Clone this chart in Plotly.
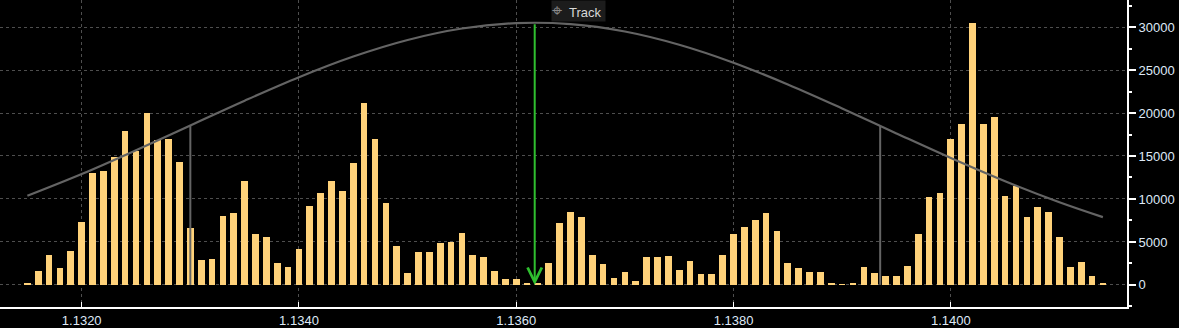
import plotly.graph_objects as go

# ---- data ----
price_levels = [round(1.1315 + 0.0001 * i, 4) for i in range(100)]
volumes = [
    200, 1635, 3427, 1986, 3971, 7358, 13003, 13237, 14834, 17910,
    15534, 20011, 16819, 16936, 14289, 6580, 2842, 2958, 7981, 8331,
    12069, 5879, 5529, 2608, 2141, 4127, 9227, 10746, 12069, 10902,
    14172, 21180, 16936, 9578, 4477, 1402, 3854, 3854, 4828, 5022,
    6074, 3427, 3270, 1635, 701, 701, 234, 156, 2570, 7242,
    8526, 7942, 3504, 2453, 818, 1518, 467, 3270, 3270, 3387,
    1752, 2803, 1285, 1285, 3504, 5957, 6774, 7592, 8410, 6307,
    2570, 1986, 1518, 1518, 234, 80, 234, 2102, 1402, 1051,
    1051, 2219, 5957, 10278, 10746, 16936, 18688, 30485, 18688, 19506,
    10395, 11563, 7942, 9110, 8526, 5606, 2102, 2686, 1051, 117,
]

curve_x = [1.1315, 1.1320, 1.1325, 1.1330, 1.1335, 1.1340, 1.1345, 1.1350,
           1.1355, 1.1360, 1.1365, 1.1370, 1.1375, 1.1380, 1.1385, 1.1390,
           1.1395, 1.1400, 1.1405, 1.1410, 1.1414]
curve_y = [10370, 12900, 15670, 18560, 21440, 24170, 26570, 28500,
           29830, 30460, 30340, 29480, 27940, 25850, 23320, 20530,
           17630, 14770, 12070, 9620, 7890]

sd_x = [1.1330, 1.13935]
sd_top = [18500, 18500]

mean_price = 1.13617
mean_top = 30500

x_ticks = [1.1320, 1.1340, 1.1360, 1.1380, 1.1400]
y_ticks = [0, 5000, 10000, 15000, 20000, 25000, 30000]

# ---- figure ----
fig = go.Figure()

fig.add_trace(go.Bar(
    x=price_levels, y=volumes,
    width=0.0000615,
    marker=dict(color="#FFD27A", line=dict(width=0)),
    hoverinfo="skip",
))

fig.add_trace(go.Scatter(
    x=curve_x, y=curve_y, mode="lines",
    line=dict(color="#646464", width=2.2, shape="spline"),
    hoverinfo="skip",
))

sx, sy = [], []
for xv, tv in zip(sd_x, sd_top):
    sx += [xv, xv, None]
    sy += [0, tv, None]
fig.add_trace(go.Scatter(
    x=sx, y=sy, mode="lines",
    line=dict(color="#646464", width=2),
    hoverinfo="skip",
))

fig.add_annotation(
    x=mean_price, y=0, ax=mean_price, ay=mean_top,
    xref="x", yref="y", axref="x", ayref="y",
    text="", showarrow=True,
    arrowcolor="#2fbf2f", arrowwidth=2, arrowhead=5, arrowsize=1.4,
    standoff=0,
)

fig.add_annotation(
    x=551 / 1127, y=1, xref="paper", yref="paper",
    xanchor="left", yanchor="top",
    text="<span style='color:#8a8a8a;font-size:18px'>⌖</span>  Track ",
    showarrow=False,
    bgcolor="#1c1c1c", borderpad=0,
    font=dict(family="Liberation Sans", size=13, color="#d8d8d8"),
)

grid = dict(gridcolor="#4e4e4e", griddash="3px,3px", gridwidth=1)

fig.update_layout(
    width=1179, height=328,
    margin=dict(l=0, r=52, t=0, b=19, pad=0),
    paper_bgcolor="#000000", plot_bgcolor="#000000",
    showlegend=False,
    bargap=0,
    font=dict(family="Liberation Sans", size=13, color="#dfe9f7"),
    xaxis=dict(
        range=[1.131248, 1.141622],
        tickmode="array", tickvals=x_ticks,
        ticktext=[f"{v:.4f}" for v in x_ticks],
        showgrid=True, **grid,
        showline=True, linecolor="#ffffff", linewidth=2,
        ticks="inside", ticklen=5, tickcolor="#ffffff",
        zeroline=False,
        tickfont=dict(size=13, color="#dfe9f7"),
    ),
    yaxis=dict(
        side="right",
        range=[-2570, 33150],
        tickmode="array", tickvals=y_ticks,
        ticktext=[str(v) for v in y_ticks],
        showgrid=True, **grid,
        showline=True, linecolor="#ffffff", linewidth=2,
        ticks="outside", ticklen=7, tickwidth=2, tickcolor="#ffffff",
        minor=dict(dtick=2500, tick0=0, ticks="outside", ticklen=3,
                   tickcolor="#ffffff", showgrid=False),
        zeroline=False,
        tickfont=dict(size=13, color="#dfe9f7"),
    ),
)

fig.write_html("out.html")
